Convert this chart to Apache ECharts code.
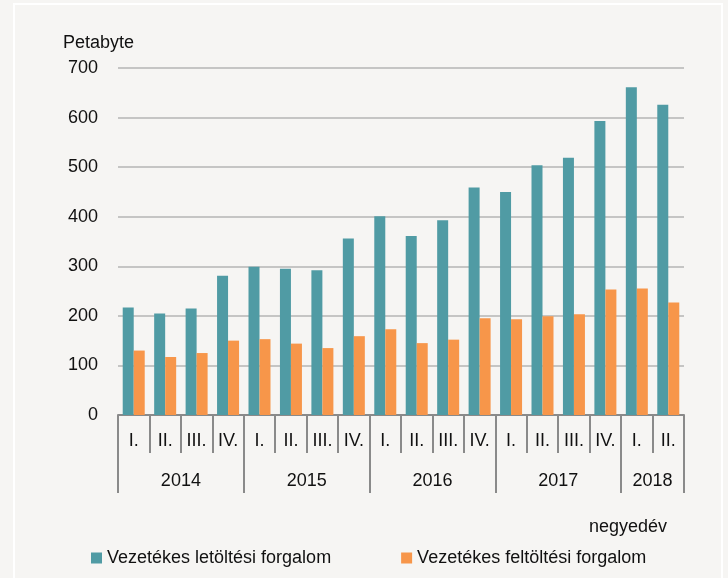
<!DOCTYPE html>
<html>
<head>
<meta charset="utf-8">
<script src="https://cdn.jsdelivr.net/npm/echarts@6/dist/echarts.min.js"></script>
<style>
html,body{margin:0;padding:0;background:#f6f5f3;}
#c{width:728px;height:578px;}
</style>
</head>
<body>
<div id="c"></div>
<script>
const quarters = ['I.','II.','III.','IV.','I.','II.','III.','IV.','I.','II.','III.','IV.','I.','II.','III.','IV.','I.','II.'];
const years = ['2014','2015','2016','2017','2018'];
const yearBounds = [0,4,8,12,16,18];
const yearCenters = [2,6,10,14,17];
const download = [217,205,215,281,299,295,292,356,401,361,393,459,450,504,519,593,661,626];
const upload = [130,117,125,150,153,144,135,159,173,145,152,195,193,199,203,253,255,227];
const seriesNames = ['Vezetékes letöltési forgalom','Vezetékes feltöltési forgalom'];
const yTicks = {min:0,max:700,interval:100};

const FONT = '"Liberation Sans Narrow","Arial Narrow","Liberation Sans",Arial,sans-serif';
const FS = 18;
const TXT = '#111111';
const AX = '#8a8a8a';

const chart = echarts.init(document.getElementById('c'), null, {renderer:'canvas'});
chart.setOption({
  backgroundColor:'#f6f5f3',
  animation:false,
  textStyle:{fontFamily:FONT},
  graphic:[{
    type:'polyline',
    shape:{points:[[14,590],[14,4],[722,4],[722,590]]},
    style:{stroke:'#ffffff',lineWidth:2,fill:null},
    silent:true
  }],
  title:[
    {text:'Petabyte',left:58,top:29,textStyle:{fontFamily:FONT,fontSize:FS,fontWeight:'normal',color:TXT}},
    {text:'negyedév',right:56,top:513,textStyle:{fontFamily:FONT,fontSize:FS,fontWeight:'normal',color:TXT}}
  ],
  legend:{
    left:86,top:544,width:630,itemWidth:11,itemHeight:11,itemGap:70,
    textStyle:{fontFamily:FONT,fontSize:FS,color:TXT},
    icon:'rect',
    data:seriesNames
  },
  grid:{left:118,right:44,top:68,bottom:163,containLabel:false},
  xAxis:[{
    type:'category',
    data:quarters,
    boundaryGap:true,
    axisLine:{show:true,lineStyle:{color:AX,width:2}},
    axisTick:{show:true,interval:0,length:38,lineStyle:{color:AX,width:2}},
    axisLabel:{interval:0,margin:17,fontFamily:FONT,fontSize:FS,color:TXT},
    splitLine:{show:false}
  },{
    type:'value',
    position:'bottom',
    min:0,max:18,
    axisLine:{show:false},
    axisTick:{show:true,customValues:yearBounds,length:78,lineStyle:{color:AX,width:2}},
    axisLabel:{show:true,customValues:yearCenters,margin:57,fontFamily:FONT,fontSize:FS,color:TXT,
      formatter:function(v){const i=yearCenters.indexOf(v);return i>=0?years[i]:'';}},
    splitLine:{show:false}
  }],
  yAxis:{
    type:'value',
    min:yTicks.min,max:yTicks.max,interval:yTicks.interval,
    axisLine:{show:false},
    axisTick:{show:false},
    axisLabel:{margin:20,fontFamily:FONT,fontSize:FS,color:TXT},
    splitLine:{lineStyle:{color:'#b4b4b4',width:1.5}}
  },
  series:[{
    name:seriesNames[0],type:'bar',data:download,barWidth:11,barGap:'0%',
    itemStyle:{color:'#509ba4'}
  },{
    name:seriesNames[1],type:'bar',data:upload,barWidth:11,barGap:'0%',
    itemStyle:{color:'#f7964a'}
  }]
});
</script>
</body>
</html>
